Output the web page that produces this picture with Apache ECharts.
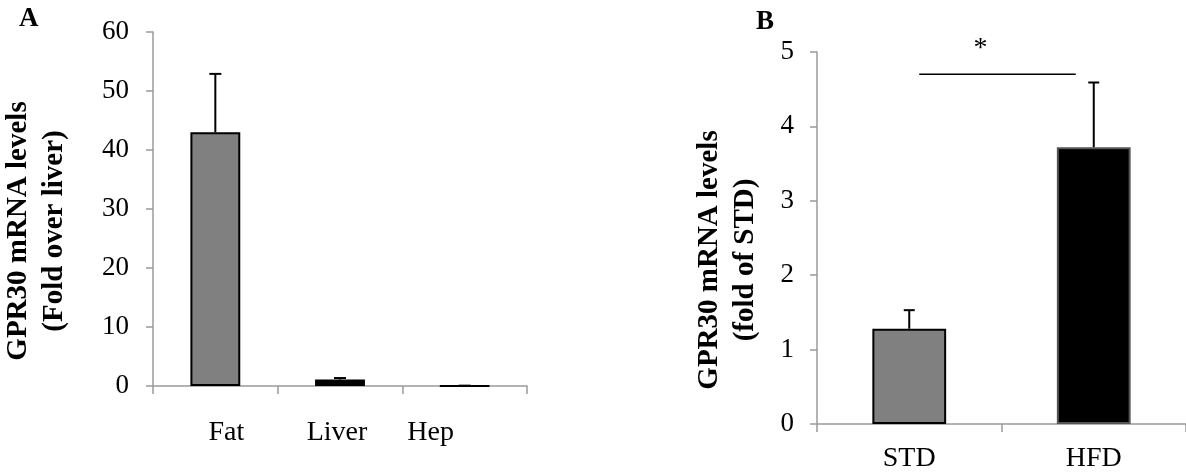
<!DOCTYPE html>
<html>
<head>
<meta charset="utf-8">
<script src="https://cdn.jsdelivr.net/npm/echarts@6/dist/echarts.min.js"></script>
<style>
  html, body { margin: 0; padding: 0; background: #fff; }
  #main { width: 1186px; height: 473px; }
</style>
</head>
<body>
<div id="main"></div>
<script>
// panel A: tissue distribution
var catsA = ['Fat', 'Liver', 'Hep'];
var valsA = [43, 1.1, 0.04];
var errA = [9.9, 0.25, 0.02];
var ticksA = [0, 10, 20, 30, 40, 50, 60];

// panel B: diet
var catsB = ['STD', 'HFD'];
var valsB = [1.28, 3.72];
var errB = [0.25, 0.87];
var ticksB = [0, 1, 2, 3, 4, 5];
var sigLevel = 4.7;

var FONT = 'Liberation Serif';
var AXIS_GRAY = '#9a9a9a';

function errorBars(vals, errs, capW) {
    return function (params, api) {
        var i = params.dataIndex;
        var base = api.coord([i, vals[i]]);
        var top = api.coord([i, vals[i] + errs[i]]);
        var st = { stroke: '#000', lineWidth: 2 };
        return {
            type: 'group',
            children: [
                { type: 'line', shape: { x1: base[0], y1: base[1], x2: top[0], y2: top[1] }, style: st },
                { type: 'line', shape: { x1: top[0] - capW / 2, y1: top[1], x2: top[0] + capW / 2, y2: top[1] }, style: st }
            ]
        };
    };
}

function yAxisCommon(max, interval, name, gap, labelMargin) {
    return {
        type: 'value', min: 0, max: max, interval: interval,
        axisLine: { show: true, lineStyle: { color: AXIS_GRAY, width: 1.5 } },
        axisTick: { show: true, inside: false, length: 7, lineStyle: { color: AXIS_GRAY, width: 1.5 } },
        splitLine: { show: false },
        axisLabel: { fontFamily: FONT, fontSize: 27, color: '#000', margin: labelMargin },
        name: name,
        nameLocation: 'middle',
        nameRotate: 90,
        nameGap: gap,
        nameTextStyle: { fontFamily: FONT, fontSize: 29, fontWeight: 'bold', color: '#000', lineHeight: 36, padding: [0, 44, 0, 0] }
    };
}

function xAxisCommon(gridIndex, cats, margin) {
    return {
        type: 'category', gridIndex: gridIndex, data: cats,
        axisLine: { lineStyle: { color: AXIS_GRAY, width: 1.5 } },
        axisTick: { show: true, alignWithLabel: false, length: 8, lineStyle: { color: AXIS_GRAY, width: 1.5 } },
        axisLabel: { fontFamily: FONT, fontSize: 28, color: '#000', margin: margin }
    };
}

// Excel placed these labels a bit off their slot centres
var shiftA = [[0, 0, 0, 22], [0, 6, 0, 0], [0, 68, 0, 0]];
var xA = xAxisCommon(0, catsA.map(function (c, i) {
    return { value: c, textStyle: { padding: shiftA[i] } };
}), 33);

var option = {
    animation: false,
    backgroundColor: '#fff',
    grid: [
        { left: 153, top: 32, bottom: 87, width: 374 },
        { left: 817, top: 52, bottom: 49, width: 376 }
    ],
    xAxis: [xA, xAxisCommon(1, catsB, 21)],
    yAxis: [
        Object.assign(yAxisCommon(60, 10, 'GPR30 mRNA levels\n(Fold over liver)', 80, 24), { gridIndex: 0 }),
        Object.assign(yAxisCommon(5, 1, 'GPR30 mRNA levels\n(fold of STD)', 53, 23), { gridIndex: 1 })
    ],
    graphic: [
        { type: 'text', left: 19, top: 6, style: { text: 'A', font: 'bold 27px "Liberation Serif"', fill: '#000' } },
        { type: 'text', left: 756, top: 9, style: { text: 'B', font: 'bold 27px "Liberation Serif"', fill: '#000' } }
    ],
    series: [
        {
            type: 'bar', xAxisIndex: 0, yAxisIndex: 0, barWidth: '40%',
            data: valsA.map(function (v, i) {
                return { value: v, itemStyle: { color: i === 1 ? '#000' : '#808080' } };
            }),
            itemStyle: { borderColor: '#000', borderWidth: 2 }
        },
        {
            type: 'custom', xAxisIndex: 0, yAxisIndex: 0, z: 5,
            data: valsA, renderItem: errorBars(valsA, errA, 12)
        },
        {
            type: 'bar', xAxisIndex: 1, yAxisIndex: 1, barWidth: '40%',
            data: [
                { value: valsB[0], itemStyle: { color: '#808080', borderColor: '#000' } },
                { value: valsB[1], itemStyle: { color: '#000', borderColor: '#555' } }
            ],
            itemStyle: { borderWidth: 2 }
        },
        {
            type: 'custom', xAxisIndex: 1, yAxisIndex: 1, z: 5,
            data: valsB, renderItem: errorBars(valsB, errB, 11)
        },
        {
            // significance bracket between STD and HFD
            type: 'custom', xAxisIndex: 1, yAxisIndex: 1, z: 5, clip: false,
            data: [0],
            renderItem: function (params, api) {
                var a = api.coord([0, sigLevel]);
                var b = api.coord([1, sigLevel]);
                var x1 = a[0] + 10, x2 = b[0] - 18;
                return {
                    type: 'group',
                    children: [
                        { type: 'line', shape: { x1: x1, y1: a[1], x2: x2, y2: b[1] }, style: { stroke: '#000', lineWidth: 1.5 } },
                        { type: 'text', style: { text: '*', x: (x1 + x2) / 2 - 17, y: a[1] - 40, font: '28px "Liberation Serif"', fill: '#000', align: 'center' } }
                    ]
                };
            }
        }
    ]
};

echarts.init(document.getElementById('main')).setOption(option);
</script>
</body>
</html>
